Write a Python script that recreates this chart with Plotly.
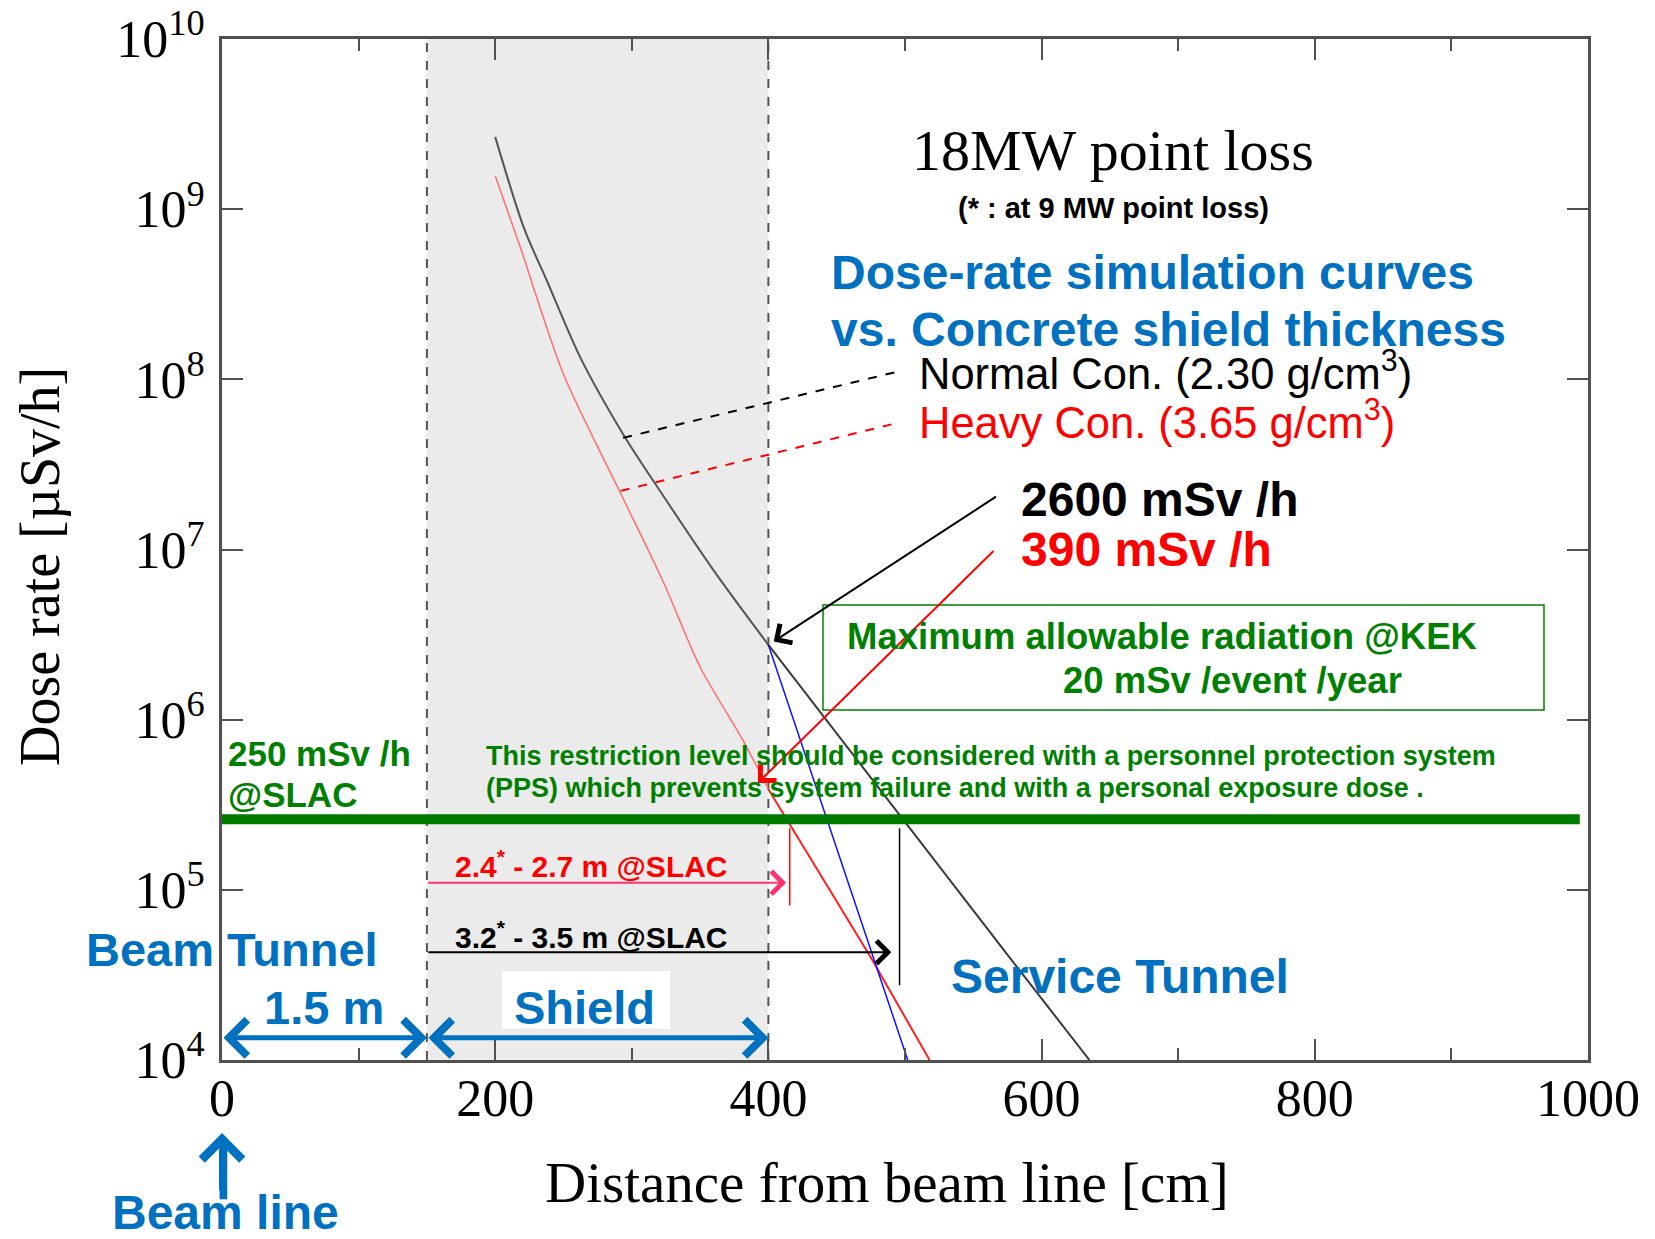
import numpy as np
import plotly.graph_objects as go

# ---------------- data ----------------
normal_x = [200, 221, 238, 262, 294, 323, 360, 400, 490, 570, 635]
normal_dose = [2.66e9, 7.76e8, 3.77e8, 1.36e8, 4.71e7, 2.07e7, 7.52e6, 2.75e6, 3.16e5, 4.68e4, 1.0e4]

heavy_x = [200, 218, 250, 290, 323, 350, 382, 400, 475, 518]
heavy_dose = [1.57e9, 6.1e8, 1.07e8, 2.29e7, 6.46e6, 2.04e6, 7.4e5, 3.9e5, 4.0e4, 1.0e4]

steep_x = [400, 502]
steep_dose = [2.75e6, 1.0e4]

slac_limit = 2.6e5          # 250 mSv/h @SLAC (µSv/h)
slac_limit_x = [0, 994]
shield_x = [150, 400]       # beam tunnel wall / shield outer wall (cm)

heavy_mark_x = 415.6
heavy_mark_y = [8.1e4, 2.3e5]
normal_mark_x = 496
normal_mark_y = [2.75e4, 2.3e5]

heavy_arrow = dict(x0=150, x1=413, y=1.1e5)
normal_arrow = dict(x0=150, x1=490, y=4.3e4)
dim_arrow_y = 1.35e4

normal_leader = dict(x=[293.6, 492.7], y=[4.53e7, 1.10e8])
heavy_leader = dict(x=[291.8, 492.7], y=[2.21e7, 5.5e7])
arrow_2600 = dict(x=403.9, y=2.88e6, ax=567.7, ay=2.07e7)
arrow_390 = dict(x=392.3, y=4.25e5, ax=565.9, ay=1.0e7)

x_ticks = [0, 200, 400, 600, 800, 1000]
x_minor = [100, 300, 500, 700, 900]
y_ticks = [1e4, 1e5, 1e6, 1e7, 1e8, 1e9, 1e10]
y_ticktext = ["10<sup>%d</sup>" % e for e in range(4, 11)]

# ---------------- layout geometry ----------------
W, H = 1655, 1239
L, R, T, B = 222, 67, 39, 179
PW, PH = W - L - R, H - T - B

SERIF = "Liberation Serif, Times New Roman, serif"
SANS = "Liberation Sans, Arial, sans-serif"
BLUE = "#0070C0"
GREEN = "#008000"
RED = "#FF0000"
AXC = "#505050"


def pp(xp, yp):
    return (xp - L) / PW, (H - B - yp) / PH


fig = go.Figure()

# shield region
fig.add_shape(type="rect", xref="x", yref="paper", x0=shield_x[0], x1=shield_x[1], y0=0, y1=1,
              fillcolor="#EBEBEB", line_width=0, layer="below")
for xv in shield_x:
    fig.add_shape(type="line", xref="x", yref="paper", x0=xv, x1=xv, y0=0, y1=1,
                  line=dict(color="#555555", width=2, dash="dash"), layer="below")
# white box behind "Shield"
bx0, by0 = pp(502, 1029)
bx1, by1 = pp(670, 971)
fig.add_shape(type="rect", xref="paper", yref="paper", x0=bx0, x1=bx1, y0=by0, y1=by1,
              fillcolor="white", line_width=0, layer="below")
# KEK box
kx0, ky0 = pp(823, 710)
kx1, ky1 = pp(1544, 605)
fig.add_shape(type="rect", xref="paper", yref="paper", x0=kx0, x1=kx1, y0=ky0, y1=ky1,
              line=dict(color=GREEN, width=1.5), fillcolor="rgba(0,0,0,0)", layer="above")

# curves
i_n = normal_x.index(400)
i_h = heavy_x.index(400)
fig.add_trace(go.Scatter(x=normal_x[:i_n + 1], y=normal_dose[:i_n + 1], mode="lines",
                         line=dict(color="#555555", width=2, shape="spline", smoothing=0.8)))
fig.add_trace(go.Scatter(x=normal_x[i_n:], y=normal_dose[i_n:], mode="lines",
                         line=dict(color="#3a3a3a", width=2)))
fig.add_trace(go.Scatter(x=heavy_x[:i_h + 1], y=heavy_dose[:i_h + 1], mode="lines",
                         line=dict(color="#FF6E6E", width=1.5, shape="spline", smoothing=0.8)))
fig.add_trace(go.Scatter(x=heavy_x[i_h:], y=heavy_dose[i_h:], mode="lines",
                         line=dict(color="#FF2020", width=2)))
fig.add_trace(go.Scatter(x=steep_x, y=steep_dose, mode="lines",
                         line=dict(color="#1010FF", width=1.5)))

# SLAC limit line
fig.add_trace(go.Scatter(x=slac_limit_x, y=[slac_limit, slac_limit], mode="lines",
                         line=dict(color="#007A00", width=10)))

# vertical markers
fig.add_trace(go.Scatter(x=[heavy_mark_x, heavy_mark_x], y=heavy_mark_y, mode="lines",
                         line=dict(color=RED, width=1.5)))
fig.add_trace(go.Scatter(x=[normal_mark_x, normal_mark_x], y=normal_mark_y, mode="lines",
                         line=dict(color="black", width=1.5)))

# leader lines
fig.add_trace(go.Scatter(x=normal_leader["x"], y=normal_leader["y"], mode="lines",
                         line=dict(color="black", width=2, dash="dash")))
fig.add_trace(go.Scatter(x=heavy_leader["x"], y=heavy_leader["y"], mode="lines",
                         line=dict(color=RED, width=2, dash="dash")))

lg = np.log10


def arrow(x, y, ax, ay, color, width, size, head=4, side="end"):
    fig.add_annotation(x=x, y=lg(y), ax=ax, ay=lg(ay), xref="x", yref="y", axref="x", ayref="y",
                       text="", showarrow=True, arrowhead=head, startarrowhead=head,
                       arrowside=side, arrowwidth=width, arrowsize=size, startarrowsize=size,
                       arrowcolor=color, standoff=0, startstandoff=0)


arrow(arrow_2600["x"], arrow_2600["y"], arrow_2600["ax"], arrow_2600["ay"], "black", 2, 2.2)
arrow(arrow_390["x"], arrow_390["y"], arrow_390["ax"], arrow_390["ay"], RED, 2, 2.2)
arrow(heavy_arrow["x1"], heavy_arrow["y"], heavy_arrow["x0"], heavy_arrow["y"], "#FF3370", 2, 2.2)
arrow(normal_arrow["x1"], normal_arrow["y"], normal_arrow["x0"], normal_arrow["y"], "black", 2, 2.2)
arrow(shield_x[0], dim_arrow_y, 0, dim_arrow_y, BLUE, 5, 1.4, side="end+start")
arrow(shield_x[1], dim_arrow_y, shield_x[0], dim_arrow_y, BLUE, 5, 1.4, side="end+start")


def label(s, xp, yp, size, color="black", family=SANS, xanchor="left", angle=0):
    if xanchor == "left":
        xp -= 3
    px_, py_ = pp(xp, yp)
    fig.add_annotation(x=px_, y=py_, xref="paper", yref="paper", text=s, showarrow=False,
                       xanchor=xanchor, yanchor="middle", textangle=angle,
                       font=dict(size=size, color=color, family=family))


label("18MW point loss", 1113, 151, 58, family=SERIF, xanchor="center")
label("<b>(* : at 9 MW point loss)</b>", 1113, 208, 29, xanchor="center")
label("<b>Dose-rate simulation curves</b>", 832, 272, 48, BLUE)
label("<b>vs. Concrete shield thickness</b>", 832, 329, 48, BLUE)
label("Normal Con. (2.30 g/cm<sup>3</sup>)", 920, 370, 43.5, "black")
label("Heavy Con. (3.65 g/cm<sup>3</sup>)", 920, 420, 43.5, RED)
label("<b>2600 mSv /h</b>", 1022, 499, 48, "black")
label("<b>390 mSv /h</b>", 1022, 549, 48, RED)
label("<b>Maximum allowable radiation @KEK</b>", 848, 637, 36.5, GREEN)
label("<b>20 mSv /event /year</b>", 1064, 680, 36.5, GREEN)
label("<b>This restriction level should be considered with a personnel protection system</b>",
      487, 756, 27, GREEN)
label("<b>(PPS) which prevents system failure and with a personal exposure dose .</b>",
      487, 788, 27, GREEN)
label("<b>250 mSv /h</b>", 229, 753, 35, GREEN)
label("<b>@SLAC</b>", 229, 794, 35, GREEN)
label("<b>2.4<sup>*</sup> - 2.7 m @SLAC</b>", 456, 864, 30, RED)
label("<b>3.2<sup>*</sup> - 3.5 m @SLAC</b>", 456, 935, 30, "black")
label("<b>Beam Tunnel</b>", 87, 949, 47, BLUE)
label("<b>1.5 m</b>", 324, 1007, 47, BLUE, xanchor="center")
label("<b>Shield</b>", 584, 1007, 47, BLUE, xanchor="center")
label("<b>Service Tunnel</b>", 952, 976, 48, BLUE)
label("<b>Beam line</b>", 225, 1212, 48, BLUE, xanchor="center")

# axis titles
label("Distance from beam line [cm]", 887, 1182, 57, family=SERIF, xanchor="center")
label("Dose rate [µSv/h]", 40, 567, 56, family=SERIF, xanchor="center", angle=-90)

# "Beam line" arrow pointing up to x = 0: shaft drawn as a text bar, head as annotation arrow
label("<b>|</b>", L + 1, 1166, 60, BLUE, xanchor="center")
tipx, tipy = pp(L, 1133)
tailx, taily = pp(L, 1192)
fig.add_annotation(x=tipx, y=tipy, xref="x domain", yref="y domain", ax=tailx, ay=taily,
                   axref="x domain", ayref="y domain", text="", showarrow=True,
                   arrowhead=4, arrowwidth=6, arrowsize=1.3, arrowcolor=BLUE,
                   standoff=0, startstandoff=0, font=dict(size=1))

fig.update_layout(
    width=W, height=H,
    margin=dict(l=L, r=R, t=T, b=B, pad=0, autoexpand=False),
    paper_bgcolor="white", plot_bgcolor="white",
    showlegend=False,
    xaxis=dict(range=[0, 1000], tickmode="array", tickvals=x_ticks, ticks="inside",
               ticklen=21, tickwidth=2, tickcolor=AXC, showline=True, linecolor=AXC, linewidth=3,
               mirror="ticks", showgrid=False, zeroline=False, automargin=False,
               tickfont=dict(family=SERIF, size=52, color="black"), ticklabelstandoff=-9,
               minor=dict(tickmode="array", tickvals=x_minor, ticks="inside", ticklen=12,
                          tickwidth=2, tickcolor=AXC, showgrid=False)),
    yaxis=dict(type="log", range=[4, 10], tickmode="array", tickvals=y_ticks, ticktext=y_ticktext,
               ticks="inside", ticklen=21, tickwidth=2, tickcolor=AXC, showline=True,
               linecolor=AXC, linewidth=3, mirror="ticks", showgrid=False, zeroline=False,
               automargin=False,
               tickfont=dict(family=SERIF, size=52, color="black"), ticklabelstandoff=4),
)

fig.write_html("out.html")
